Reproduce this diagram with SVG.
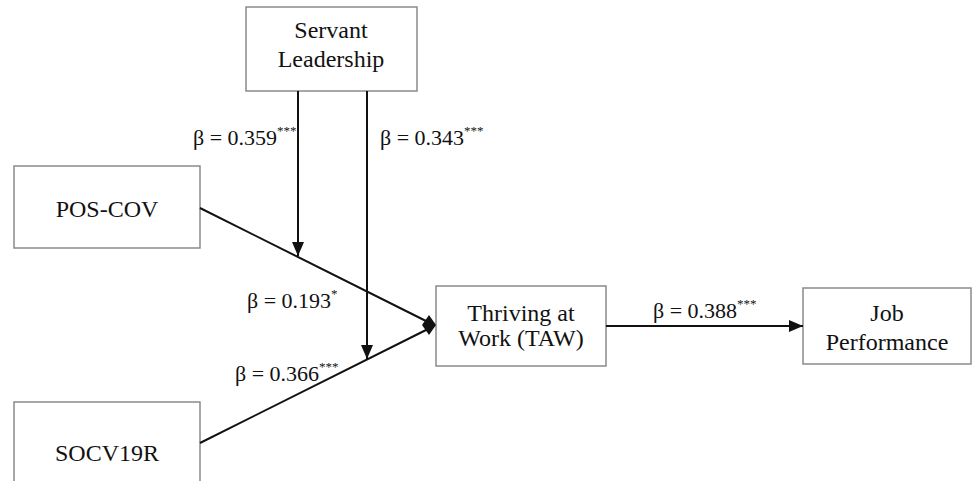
<svg xmlns="http://www.w3.org/2000/svg" width="972" height="481" viewBox="0 0 972 481">
<style>
.box{fill:#fff;stroke:#8a8a8a;stroke-width:1.5}
.t{font-family:"Liberation Serif","Times New Roman",serif;font-size:24px;fill:#111;text-anchor:middle}
.l{font-family:"Liberation Serif","Times New Roman",serif;font-size:22px;fill:#111}
.s{font-size:13px}
.c{stroke:#111;stroke-width:2;fill:none}
</style>
<defs>
<marker id="ah" viewBox="0 0 14 12" refX="14" refY="6" markerWidth="14" markerHeight="12" markerUnits="userSpaceOnUse" orient="auto">
<path d="M0,0 L14,6 L0,12 Z" fill="#111"/>
</marker>
</defs>
<rect width="972" height="481" fill="#fff"/>
<g id="servant">
<rect class="box" x="246" y="7" width="171" height="84"/>
<text class="t" x="331" y="38">Servant</text>
<text class="t" x="331" y="67">Leadership</text>
</g>
<g id="poscov">
<rect class="box" x="14" y="166" width="186" height="82"/>
<text class="t" x="107" y="217">POS-COV</text>
</g>
<g id="socv">
<rect class="box" x="14" y="402" width="186" height="100"/>
<text class="t" x="107" y="461">SOCV19R</text>
</g>
<g id="taw">
<rect class="box" x="436" y="286" width="170" height="80"/>
<text class="t" x="521" y="321">Thriving at</text>
<text class="t" x="521" y="346">Work (TAW)</text>
</g>
<g id="job">
<rect class="box" x="803" y="288" width="168" height="76"/>
<text class="t" x="887" y="321">Job</text>
<text class="t" x="887" y="350">Performance</text>
</g>
<g id="connectors">
<line class="c" x1="200" y1="208" x2="428" y2="322"/>
<line class="c" x1="200" y1="443" x2="428" y2="329"/>
<polygon points="422,325 429,315 436,325 429,335" fill="#111"/>
<line class="c" x1="298" y1="91" x2="298" y2="256" marker-end="url(#ah)"/>
<line class="c" x1="367" y1="91" x2="367" y2="359" marker-end="url(#ah)"/>
<line class="c" x1="606" y1="326" x2="803" y2="326" marker-end="url(#ah)"/>
</g>
<g id="labels">
<text class="l" x="193" y="145">β = 0.359<tspan class="s" dy="-10">***</tspan></text>
<text class="l" x="380" y="145">β = 0.343<tspan class="s" dy="-10">***</tspan></text>
<text class="l" x="247" y="308">β = 0.193<tspan class="s" dy="-10">*</tspan></text>
<text class="l" x="235" y="381">β = 0.366<tspan class="s" dy="-10">***</tspan></text>
<text class="l" x="653" y="318">β = 0.388<tspan class="s" dy="-10">***</tspan></text>
</g>
</svg>
